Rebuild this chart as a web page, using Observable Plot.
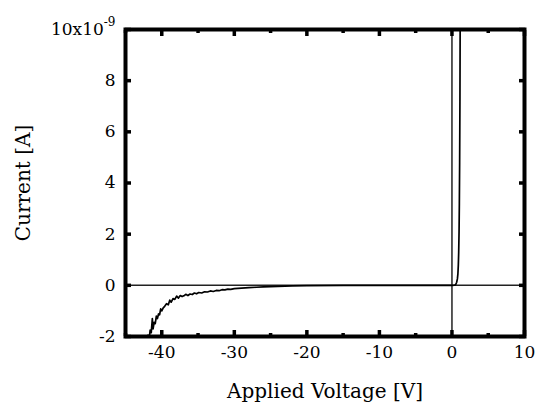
<!DOCTYPE html>
<html><head><meta charset="utf-8">
<script src="https://cdn.jsdelivr.net/npm/d3@7"></script>
<script src="https://cdn.jsdelivr.net/npm/@observablehq/plot@0.6"></script>
<style>body{margin:0;background:#fff} svg text{font-family:"DejaVu Serif",serif}</style>
</head><body><div id="chart"></div>
<script>
// Applied voltage [V] and current [x1e-9 A]
const voltage = [-42.2,-41.9,-41.7,-41.6,-41.45,-41.3,-41.2,-41.05,-40.9,-40.75,-40.6,-40.45,-40.3,-40.15,-40.0,-39.8,-39.6,-39.35,-39.1,-38.9,-38.7,-38.45,-38.2,-37.95,-37.7,-37.45,-37.2,-36.95,-36.7,-36.4,-36.1,-35.8,-35.5,-35.2,-34.9,-34.5,-34.1,-33.7,-33.3,-32.9,-32.5,-32.1,-31.7,-31.3,-30.9,-30.5,-30.0,-29.0,-28.0,-27.0,-26.0,-25.0,-24.0,-23.0,-22.0,-20.0,-15.0,-10.0,-5.0,0.0,0.4,0.55,0.65,0.75,0.82,0.88,0.93,0.98,1.02,1.06,1.1,1.14];
const current = [-2.15,-1.95,-2.0,-1.75,-1.85,-1.3,-1.7,-1.45,-1.5,-1.2,-1.3,-1.12,-1.15,-0.92,-1.0,-0.88,-0.82,-0.72,-0.76,-0.58,-0.66,-0.52,-0.55,-0.42,-0.5,-0.4,-0.44,-0.41,-0.35,-0.4,-0.34,-0.36,-0.3,-0.33,-0.28,-0.3,-0.25,-0.26,-0.22,-0.24,-0.2,-0.21,-0.17,-0.18,-0.15,-0.16,-0.13,-0.11,-0.09,-0.075,-0.06,-0.05,-0.04,-0.03,-0.02,-0.01,0,0,0,0,0.01,0.05,0.12,0.25,0.45,0.8,1.3,2.1,3.2,4.8,7.2,11];
const xTicks = [-40,-30,-20,-10,0,10];
const xMinorTicks = [-45,-35,-25,-15,-5,5];
const yTicks = [-2,0,2,4,6,8,10];
const xLabel = "Applied Voltage [V]";
const yLabel = "Current [A]";
const yTopLabel = "10x10";
const yExponent = "-9";

const data = voltage.map((v, i) => ({v, c: current[i]}));
const fmtX = d => String(d);
const fmtY = d => d === 10 ? yTopLabel : String(d);

const plot = Plot.plot({
  width: 537, height: 405,
  marginLeft: 125, marginRight: 13, marginTop: 29, marginBottom: 69,
  style: {fontFamily: "'DejaVu Serif', serif", fontSize: "17px", color: "black", background: "white"},
  x: {domain: [-45, 10]},
  y: {domain: [-2, 10]},
  marks: [
    Plot.ruleY([0], {stroke: "#222", strokeWidth: 1.5}),
    Plot.ruleX([0], {stroke: "#222", strokeWidth: 1.5}),
    Plot.line(data, {x: "v", y: "c", stroke: "black", strokeWidth: 1.7, clip: true}),
    Plot.frame({stroke: "black", strokeWidth: 4}),
    Plot.axisX(xTicks, {anchor: "bottom", tickSize: 0, tickPadding: 9, tickFormat: fmtX, fontSize: 17,
      label: xLabel, labelAnchor: "center", labelArrow: false, labelOffset: 61}),
    Plot.axisX(xTicks, {anchor: "bottom", tickSize: -6, strokeWidth: 3.5, text: null, label: null}),
    Plot.axisX(xTicks, {anchor: "top", tickSize: -6, strokeWidth: 3.5, text: null, label: null}),
    Plot.axisX(xMinorTicks, {anchor: "bottom", tickSize: -3, strokeWidth: 3.5, text: null, label: null}),
    Plot.axisX(xMinorTicks, {anchor: "top", tickSize: -3, strokeWidth: 3.5, text: null, label: null}),
    Plot.axisY(yTicks, {anchor: "left", tickSize: 0, tickPadding: 10, tickFormat: fmtY, fontSize: 17,
      label: yLabel, labelAnchor: "center", labelArrow: false, labelOffset: 110}),
    Plot.axisY(yTicks, {anchor: "left", tickSize: -6, strokeWidth: 3.5, text: null, label: null}),
    Plot.axisY(yTicks, {anchor: "right", tickSize: -6, strokeWidth: 3.5, text: null, label: null})
  ]
});
document.getElementById("chart").appendChild(plot);

plot.querySelectorAll("text").forEach(t => {
  if (t.textContent === yTopLabel) {
    const ts = document.createElementNS("http://www.w3.org/2000/svg", "tspan");
    ts.setAttribute("dy", "-0.75em");
    ts.setAttribute("font-size", "12");
    ts.textContent = yExponent;
    t.appendChild(ts);
  }
  if (t.textContent === xLabel || t.textContent === yLabel) {
    t.setAttribute("font-size", "20");
  }
});
</script>
</body></html>
